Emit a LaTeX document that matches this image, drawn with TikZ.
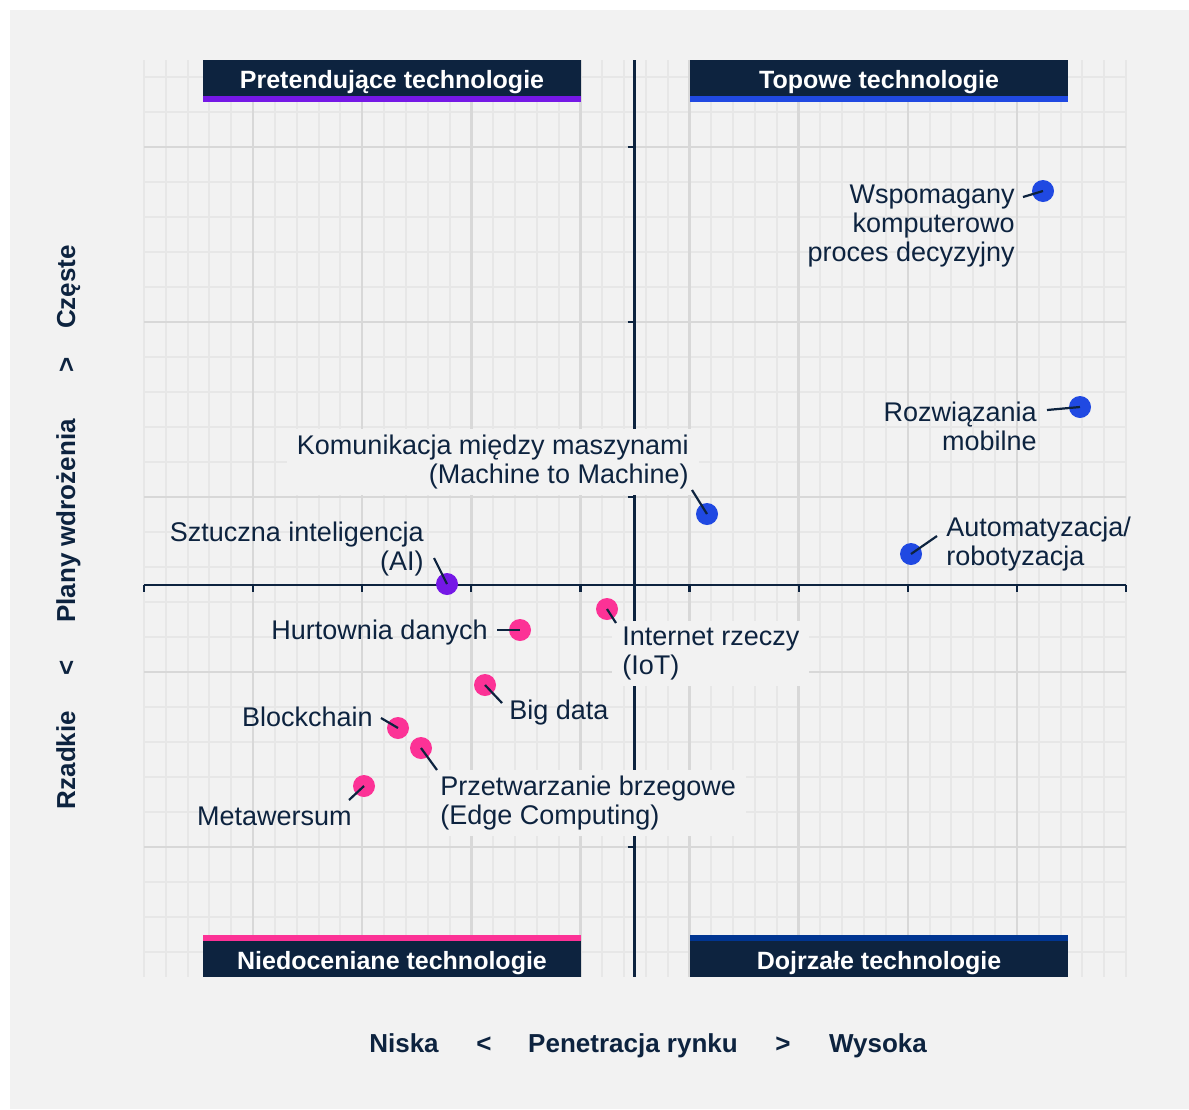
\documentclass[tikz,border=0pt]{standalone}
\usepackage{fontspec}
\setmainfont{Liberation Sans}

\definecolor{navy}{HTML}{0D233F}
\definecolor{bgcol}{HTML}{F2F2F2}
\definecolor{gridlight}{HTML}{E7E7E7}
\definecolor{griddark}{HTML}{D8D8D8}
\definecolor{dotblue}{HTML}{2049E2}
\definecolor{dotviolet}{HTML}{7518E6}
\definecolor{dotpink}{HTML}{FC3296}
\definecolor{deepblue}{HTML}{003591}

\begin{document}
\begin{tikzpicture}[x=0.5pt, y=-0.5pt]
	\tikzstyle{gridminor}=[draw=gridlight, line width=1pt]
	\tikzstyle{gridmajor}=[draw=griddark, line width=1.2pt]
	\tikzstyle{axisline}=[draw=navy, line width=1.1pt]
	\tikzstyle{headtxt}=[text=white, text height=0.72em, text depth=0.22em, yshift=-2.5pt, font=\fontsize{12.5}{14}\selectfont\bfseries]
	\tikzstyle{axtitle}=[text=navy, text height=0.72em, text depth=0.22em, font=\fontsize{13}{15}\selectfont\bfseries]
	\tikzstyle{dot}=[circle, inner sep=0pt, minimum size=11pt]
	\tikzstyle{lbl}=[text=navy, inner sep=0pt, yshift=-1.3pt, font=\fontsize{13.5}{14.5}\selectfont]
	\tikzstyle{boxed}=[lbl, fill=bgcol, inner xsep=5pt, inner ysep=3pt]
	\tikzstyle{lead}=[draw=navy, line width=1.1pt]
	\newcommand\Xleft{144}
	\newcommand\Xright{1126}
	\newcommand\Ytop{60}
	\newcommand\Ybot{977}
	\newcommand\Xaxis{634.5}
	\newcommand\Yaxis{585}
	\newcommand\Xminor{21.822}
	\newcommand\Yminor{35}

	% page and background
	\fill [white] (0,0) rectangle (1189,1109);
	\fill [bgcol] (10,10) rectangle (1189,1109);

	% grid
\foreach \i in {0,...,45}
{
	\pgfmathsetmacro{\X}{\Xleft + \i * \Xminor};
	\draw [gridminor] (\X,\Ytop) -- (\X,\Ybot);
}
\foreach \j in {-2,...,23}
{
	\pgfmathsetmacro{\Y}{147 + \j * \Yminor};
	\draw [gridminor] (\Xleft,\Y) -- (\Xright,\Y);
}
\foreach \i in {1,...,8}
{
	\pgfmathsetmacro{\X}{\Xleft + \i * 5 * \Xminor};
	\draw [gridmajor] (\X,\Ytop) -- (\X,\Ybot);
}
\foreach \j in {0,...,4}
{
	\pgfmathsetmacro{\Y}{147 + \j * 5 * \Yminor};
	\draw [gridmajor] (\Xleft,\Y) -- (\Xright,\Y);
	\draw [axisline] (\Xaxis-7,\Y) -- (\Xaxis,\Y);
}

	% axes
	\draw [axisline] (\Xaxis,\Ytop) -- (\Xaxis,\Ybot);
	\draw [axisline] (\Xleft,\Yaxis) -- (\Xright,\Yaxis);
\foreach \i in {0,...,9}
{
	\pgfmathsetmacro{\X}{\Xleft + \i * 5 * \Xminor};
	\draw [axisline] (\X,\Yaxis) -- (\X,\Yaxis+7);
}

	% quadrant headers
	\fill [navy] (203,60) rectangle (581,96) node [midway, headtxt] (pret) {Pretendujące technologie};
	\fill [dotviolet] (203,96) rectangle (581,102);
	\fill [navy] (690,60) rectangle (1068,96) node [midway, headtxt] (top) {Topowe technologie};
	\fill [dotblue] (690,96) rectangle (1068,102);
	\fill [dotpink] (203,935) rectangle (581,941);
	\fill [navy] (203,941) rectangle (581,977) node [midway, headtxt] (nied) {Niedoceniane technologie};
	\fill [deepblue] (690,935) rectangle (1068,941);
	\fill [navy] (690,941) rectangle (1068,977) node [midway, headtxt] (dojr) {Dojrzałe technologie};

	% axis titles
	\node [axtitle] (niska) at (404,1047) {Niska};
	\node [axtitle] (lt) at (484,1047) {<};
	\node [axtitle] (pen) at (633,1047) {Penetracja rynku};
	\node [axtitle] (gt) at (783,1047) {>};
	\node [axtitle] (wys) at (878,1047) {Wysoka};
	\node [axtitle, rotate=90] (rzad) at (70,760) {Rzadkie};
	\node [axtitle, rotate=90] (dn) at (70,668) {<};
	\node [axtitle, rotate=90] (plany) at (70,521) {Plany wdrożenia};
	\node [axtitle, rotate=90] (up) at (70,365) {>};
	\node [axtitle, rotate=90] (czes) at (70,287) {Częste};

	% data points
	\node [dot, fill=dotblue] (wsp) at (1043,191) {};
	\node [dot, fill=dotblue] (mob) at (1080,407) {};
	\node [dot, fill=dotblue] (mtm) at (707,514) {};
	\node [dot, fill=dotblue] (auto) at (911,554) {};
	\node [dot, fill=dotviolet] (ai) at (447,584) {};
	\node [dot, fill=dotpink] (hurt) at (520,630) {};
	\node [dot, fill=dotpink] (iot) at (607,609) {};
	\node [dot, fill=dotpink] (big) at (485,685) {};
	\node [dot, fill=dotpink] (block) at (398,728) {};
	\node [dot, fill=dotpink] (edge) at (421,748) {};
	\node [dot, fill=dotpink] (meta) at (364,786) {};

	% labels
	\node [lbl, anchor=east, align=right] (wspL) at (1015,223) {Wspomagany\\komputerowo\\proces decyzyjny};
	\node [lbl, anchor=east, align=right] (mobL) at (1037,424) {Rozwiązania\\mobilne};
	\node [boxed, anchor=east, align=right] (mtmL) at (699,459) {Komunikacja między maszynami\\(Machine to Machine)};
	\node [lbl, anchor=west, align=left] (autoL) at (946,541) {Automatyzacja/\\robotyzacja};
	\node [lbl, anchor=east, align=right] (aiL) at (424,546) {Sztuczna inteligencja\\(AI)};
	\node [lbl, anchor=east] (hurtL) at (488,630) {Hurtownia danych};
	\node [boxed, anchor=west, align=left] (iotL) at (612,651) {Internet rzeczy\\(IoT)};
	\node [lbl, anchor=west] (bigL) at (509,710) {Big data};
	\node [lbl, anchor=east] (blockL) at (373,714) {Blockchain};
	\node [boxed, anchor=west, align=left] (edgeL) at (430,800) {Przetwarzanie brzegowe\\(Edge Computing)};
	\node [lbl, anchor=east] (metaL) at (352,814) {Metawersum};

	% leader lines
	\coordinate (wspC) at (1023,197);
	\coordinate (mobC) at (1047,410);
	\coordinate (mtmC) at (692,490);
	\coordinate (autoC) at (937,536);
	\coordinate (aiC) at (434,558);
	\coordinate (hurtC) at (497,630);
	\coordinate (iotC) at (616,623);
	\coordinate (bigC) at (502,703);
	\coordinate (blockC) at (381,718);
	\coordinate (edgeC) at (437,770);
	\coordinate (metaC) at (349,800);
\foreach \n in {wsp,mob,mtm,auto,ai,hurt,iot,big,block,edge,meta}
{
	\path [lead] (\n C) -- (\n.center);
}

\end{tikzpicture}
\end{document}
